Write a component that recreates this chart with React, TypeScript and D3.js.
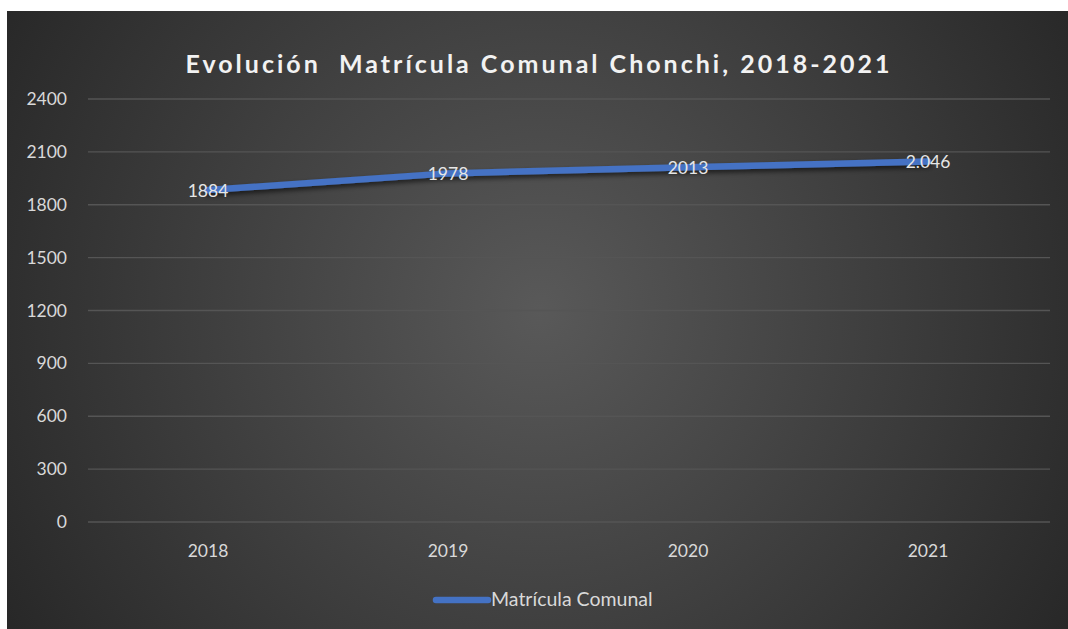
import React from "react";
import * as d3 from "d3";

const years = ["2018", "2019", "2020", "2021"];
const matricula = [1884, 1978, 2013, 2046];
const pointLabels = ["1884", "1978", "2013", "2.046"];
const yTicks = [0, 300, 600, 900, 1200, 1500, 1800, 2100, 2400];
const seriesName = "Matrícula Comunal";
const title = "Evolución  Matrícula Comunal Chonchi, 2018-2021";

const W = 1068;
const H = 629;
const FONT = "Lato, 'Open Sans', sans-serif";

export default function App() {
  // plot area
  const left = 88, right = 1048, top = 99, bottom = 522;

  const x = d3.scaleBand().domain(years).range([left, right]);
  const y = d3.scaleLinear().domain([0, 2400]).range([bottom, top]);

  const line = d3
    .line<number>()
    .x((d, i) => x(years[i])! + x.bandwidth() / 2)
    .y((d) => y(d));

  return (
    <svg
      width={W}
      height={H}
      style={{ position: "absolute", left: 0, top: 0, background: "#fff" }}
    >
      <defs>
        <radialGradient id="bg" cx="540" cy="310" r="640" gradientUnits="userSpaceOnUse">
          <stop offset="0" stopColor="#595959" />
          <stop offset="1" stopColor="#262626" />
        </radialGradient>
        <filter id="shadow" x="-10%" y="-50%" width="120%" height="200%">
          <feDropShadow dx="0" dy="3" stdDeviation="2.5" floodColor="#000" floodOpacity="0.6" />
        </filter>
      </defs>
      <rect x={7} y={11} width={W - 7} height={H - 11} fill="url(#bg)" />

      <text
        x={539}
        y={73}
        textAnchor="middle"
        fill="#f2f2f2"
        fontFamily={FONT}
        fontWeight="bold"
        fontSize={25}
        letterSpacing={3}
        style={{ whiteSpace: "pre" }}
      >
        {title}
      </text>

      {/* gridlines + y labels */}
      {yTicks.map((t) => (
        <g key={t}>
          <line x1={left} x2={right + 2} y1={y(t)} y2={y(t)} stroke="#555" strokeWidth={1.3} />
          <text
            x={67}
            y={y(t) + 6}
            textAnchor="end"
            fill="#d9d9d9"
            fontFamily={FONT}
            fontSize={17.5}
          >
            {t}
          </text>
        </g>
      ))}

      {/* x labels */}
      {years.map((yr) => (
        <text
          key={yr}
          x={x(yr)! + x.bandwidth() / 2}
          y={557}
          textAnchor="middle"
          fill="#d9d9d9"
          fontFamily={FONT}
          fontSize={17.5}
        >
          {yr}
        </text>
      ))}

      <path
        d={line(matricula) ?? ""}
        fill="none"
        stroke="#4472C4"
        strokeWidth={6.5}
        strokeLinecap="round"
        strokeLinejoin="round"
        filter="url(#shadow)"
      />

      {matricula.map((v, i) => (
        <text
          key={i}
          x={x(years[i])! + x.bandwidth() / 2}
          y={y(v) + 7}
          textAnchor="middle"
          fill="#e6e6e6"
          fontFamily={FONT}
          fontSize={17.5}
        >
          {pointLabels[i]}
        </text>
      ))}

      {/* legend */}
      <line x1={436} x2={488} y1={600} y2={600} stroke="#4472C4" strokeWidth={6.5} strokeLinecap="round" />
      <text x={491} y={606} fill="#d9d9d9" fontFamily={FONT} fontSize={19.5}>
        {seriesName}
      </text>
    </svg>
  );
}
